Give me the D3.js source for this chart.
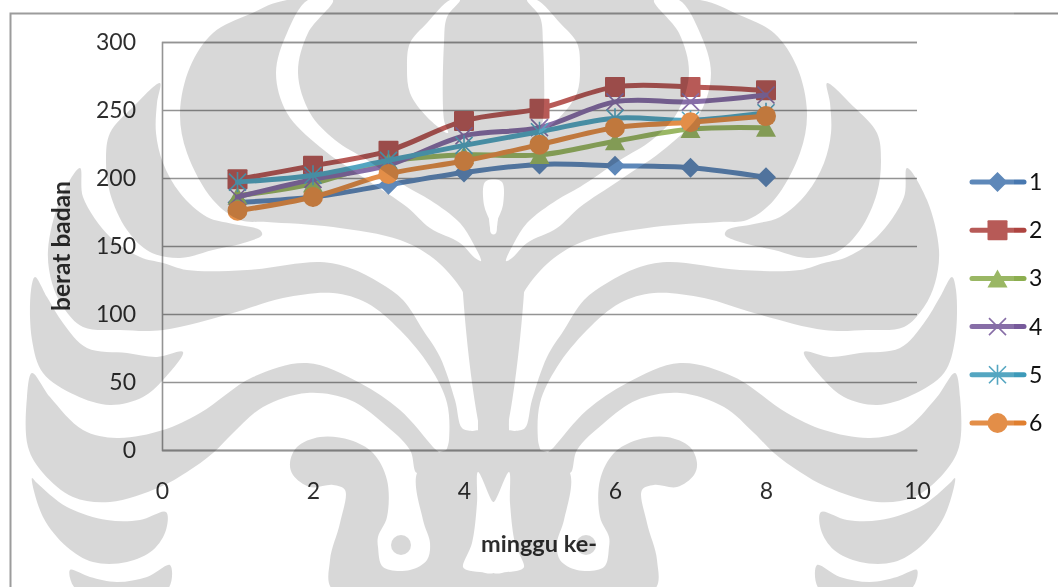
<!DOCTYPE html>
<html>
<head>
<meta charset="utf-8">
<script src="https://cdn.jsdelivr.net/npm/d3@7/dist/d3.min.js"></script>
<style>
  html, body { margin: 0; padding: 0; background: #fff; }
  svg { display: block; font-family: Lato, "Open Sans", sans-serif; }
</style>
</head>
<body>
<svg id="chart" width="1058" height="587"></svg>
<script>
// Body weight per week for six groups
const weeks = [1, 2, 3, 4, 5, 6, 7, 8];
const seriesNames = ["1", "2", "3", "4", "5", "6"];
const series1 = [182, 186, 195, 204, 210, 209, 207.5, 200.5];
const series2 = [199, 209, 220, 242, 251, 267, 267, 264.5];
const series3 = [187, 196, 212, 217, 217, 227, 236, 237];
const series4 = [186, 199, 209.5, 231, 237, 256, 256, 261];
const series5 = [197, 202, 213, 224, 234, 244, 242.5, 248];
const series6 = [176, 186, 203, 212.5, 224.5, 237, 241, 245.5];
const xTicks = [0, 2, 4, 6, 8, 10];
const yTicks = [0, 50, 100, 150, 200, 250, 300];
const seriesColors = ["#4878b0", "#ae4440", "#8cae4f", "#775a9b", "#3d9ab9", "#e07f2f"];
const allSeries = [series1, series2, series3, series4, series5, series6];

const svg = d3.select("#chart");
const x = d3.scaleLinear().domain([0, 10]).range([162, 917]);
const y = d3.scaleLinear().domain([0, 300]).range([450, 42]);

// Marker outlines around the origin, one per series
const markerShapes = [
  { d: "M0,-10L10,0L0,10L-10,0Z", fill: true },
  { d: "M-9,-10H9Q10,-10 10,-9V9Q10,10 9,10H-9Q-10,10 -10,9V-9Q-10,-10 -9,-10Z", fill: true },
  { d: "M0,-9L10,9H-10Z", fill: true },
  { d: "M-8.5,-8.5L8.5,8.5M-8.5,8.5L8.5,-8.5", fill: false },
  { d: "M-8.5,-8.5L8.5,8.5M-8.5,8.5L8.5,-8.5M0,-10V10", fill: false },
  { d: "M-10,0A10,10 0 1,1 10,0A10,10 0 1,1 -10,0Z", fill: true }
];

function drawMarker(sel, i, cx, cy) {
  const m = markerShapes[i];
  sel.append("path")
    .attr("transform", `translate(${cx},${cy})`)
    .attr("d", m.d)
    .attr("fill", m.fill ? seriesColors[i] : "none")
    .attr("stroke", m.fill ? "none" : seriesColors[i])
    .attr("stroke-width", 1.6);
}

// Chart frame: left and top edges only reach the page
svg.append("path")
  .attr("d", "M10.5,587V13.5H1058")
  .attr("fill", "none").attr("stroke", "#8f8f8f").attr("stroke-width", 2);

// Axes and gridlines
const yAxis = d3.axisLeft(y).tickValues(yTicks).tickSize(-(x(10) - x(0))).tickPadding(26);
const xAxis = d3.axisBottom(x).tickValues(xTicks).tickSize(0).tickPadding(33);

const gy = svg.append("g").attr("transform", `translate(${x(0)},0)`).call(yAxis);
gy.selectAll(".tick line").attr("stroke", "#868686").attr("stroke-width", 1.6);
gy.select(".domain").attr("stroke", "#868686").attr("stroke-width", 1.6);
gy.selectAll("text").attr("font-size", 23).attr("fill", "#111");

const gx = svg.append("g").attr("transform", `translate(0,${y(0)})`).call(xAxis);
gx.select(".domain").attr("stroke", "#868686").attr("stroke-width", 1.6);
gx.selectAll("text").attr("font-size", 23).attr("fill", "#111");

svg.selectAll("g").attr("font-family", null);

// Axis titles
svg.append("text")
  .attr("transform", "translate(70,246) rotate(-90)")
  .attr("text-anchor", "middle")
  .attr("font-size", 24.5).attr("font-weight", 700).attr("fill", "#111")
  .text("berat badan");
svg.append("text")
  .attr("x", 539).attr("y", 552)
  .attr("text-anchor", "middle")
  .attr("font-size", 23.5).attr("font-weight", 700).attr("fill", "#111")
  .text("minggu ke-");

// Series lines and markers
const lineGen = d3.line()
  .x((d, i) => x(weeks[i]))
  .y(d => y(d))
  .curve(d3.curveCatmullRom.alpha(0));

allSeries.forEach((vals, i) => {
  const g = svg.append("g");
  g.append("path")
    .attr("d", lineGen(vals))
    .attr("fill", "none")
    .attr("stroke", seriesColors[i])
    .attr("stroke-width", 5)
    .attr("stroke-linecap", "round");
  vals.forEach((v, k) => drawMarker(g, i, x(weeks[k]), y(v)));
});

// Legend
const legendRowY = d3.scalePoint().domain(seriesNames).range([182, 423]);
seriesNames.forEach((name, i) => {
  const ly = legendRowY(name);
  const g = svg.append("g");
  g.append("line")
    .attr("x1", 972).attr("x2", 1024).attr("y1", ly).attr("y2", ly)
    .attr("stroke", seriesColors[i]).attr("stroke-width", 5).attr("stroke-linecap", "round");
  drawMarker(g, i, 997.5, ly);
  g.append("text")
    .attr("x", 1029).attr("y", ly + 8)
    .attr("font-size", 23).attr("fill", "#111")
    .text(name);
});

// University crest printed over the page, traced on its left half and mirrored
const crestAxis = 987;
const domeAndTrunk = [[287,0],[250,14],[213,33],[190,67],[180,113],[187,153],[213,200],[240,220],[267,222],[333,227],[400,240],[433,258],[457,283],[470,307],[473,333],[478,357],[478,430],[478,470],[494,470],[494,0]];
const wing = [[160,83],[133,107],[110,133],[106,160],[110,193],[127,230],[150,252],[180,258],[213,250],[247,242],[262,235],[260,230],[233,224],[207,217],[180,193],[163,163],[156,133],[157,103]];
const band = [[80,168],[60,200],[48,250],[52,283],[63,307],[83,327],[120,330],[163,330],[233,313],[283,298],[333,293],[367,303],[400,330],[430,367],[447,403],[449,440],[445,462],[470,468],[482,450],[480,431],[472,431],[462,428],[455,400],[440,357],[423,330],[403,300],[380,283],[350,268],[320,262],[247,270],[187,270],[163,263],[140,257],[110,237],[83,197]];
const crescentUpper = [[35,277],[47,297],[63,323],[87,348],[127,353],[157,357],[183,352],[163,380],[143,397],[110,405],[75,395],[43,373],[32,340],[31,290]];
const sweep = [[32,373],[50,397],[83,430],[117,438],[163,430],[200,413],[253,377],[307,363],[360,383],[400,410],[433,447],[440,455],[417,473],[410,450],[383,423],[350,400],[307,393],[263,407],[233,433],[213,453],[187,472],[160,487],[110,502],[73,497],[43,473],[28,447],[27,397]];
const spiral = [[440,452],[494,452],[494,587],[333,590],[330,560],[340,523],[345,490],[333,485],[310,487],[293,475],[290,463],[297,447],[320,437],[350,440],[373,453],[387,480],[387,517],[378,537],[378,547],[383,567],[410,570],[427,560],[430,543],[423,520],[417,473]];
const crescentLower = [[32,478],[37,483],[67,507],[107,520],[140,520],[166,512],[166,530],[153,550],[127,562],[93,562],[67,547],[43,517]];
const crescentBase = [[70,570],[77,590],[167,590],[170,565],[147,577],[117,582],[90,577]];
const ribbonOuter = [[333,0],[308,33],[298,73],[310,113],[335,140],[367,160],[407,187],[430,200],[460,223],[473,243],[481,261],[475,258],[460,243],[430,228],[407,207],[367,180],[320,147],[287,113],[276,73],[287,33],[308,0]];
const ribbonInner = [[460,0],[447,17],[444,43],[444,120],[448,133],[427,117],[410,93],[407,67],[410,43],[427,23],[450,0]];
const centreDrop = [[495,180],[485,182],[484,205],[490,222],[491,233],[495,234]];
const crown = [[495,502],[493,502],[478,472],[477,503],[472,543],[463,567],[467,570],[480,572],[495,572]];

const crestSolid = [domeAndTrunk, wing, band, crescentUpper, sweep, spiral, crescentLower, crescentBase];
const crestHoles = [ribbonOuter, ribbonInner, centreDrop, crown];
const outline = d3.line().curve(d3.curveCatmullRomClosed.alpha(0.5));

const mask = svg.append("defs").append("mask")
  .attr("id", "crest").attr("maskUnits", "userSpaceOnUse")
  .attr("x", 0).attr("y", 0).attr("width", 1058).attr("height", 587);
mask.append("rect").attr("width", 1058).attr("height", 587).attr("fill", "#000");

function paintMirrored(shapes, colour) {
  [null, `translate(${crestAxis},0) scale(-1,1)`].forEach(tf => {
    const g = mask.append("g");
    if (tf) g.attr("transform", tf);
    g.selectAll("path").data(shapes).join("path")
      .attr("d", outline).attr("fill", colour);
  });
}
paintMirrored(crestSolid, "#fff");
paintMirrored(crestHoles, "#000");
[null, `translate(${crestAxis},0) scale(-1,1)`].forEach(tf => {
  const c = mask.append("circle").attr("cx", 401).attr("cy", 545).attr("r", 10).attr("fill", "#fff");
  if (tf) c.attr("transform", tf);
});

// Pale wash of the print layer, then the crest itself multiplied over everything
svg.append("rect")
  .attr("width", 1014).attr("height", 587)
  .attr("fill", "#fff").attr("fill-opacity", 0.12);
svg.append("rect")
  .attr("width", 1058).attr("height", 587)
  .attr("fill", "#d8d8d8")
  .attr("mask", "url(#crest)")
  .style("mix-blend-mode", "multiply");
</script>
</body>
</html>
